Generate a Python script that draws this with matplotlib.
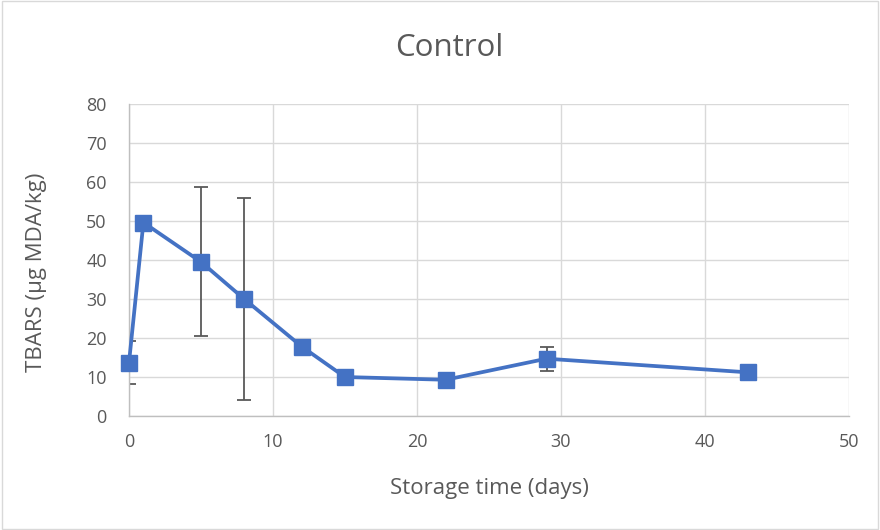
import matplotlib
matplotlib.use("Agg")
import matplotlib.pyplot as plt
from matplotlib.patches import Rectangle

days = [0, 1, 5, 8, 12, 15, 22, 29, 43]
tbars = [13.7, 49.6, 39.5, 30.0, 17.8, 10.0, 9.3, 14.7, 11.2]
err = [5.6, 1.5, 19.1, 26.0, 0.0, 0.0, 0.0, 3.1, 0.0]
xticks = [0, 10, 20, 30, 40, 50]
yticks = [0, 10, 20, 30, 40, 50, 60, 70, 80]

plt.rcParams['font.family'] = ['Open Sans', 'DejaVu Sans']
txt = '#595959'

fig = plt.figure(figsize=(8.8, 5.3), dpi=100)
fig.patches.append(Rectangle((0.002, 0.002), 0.996, 0.996, transform=fig.transFigure,
                             fill=False, edgecolor='#d9d9d9', linewidth=1))
ax = fig.add_axes([0.1466, 0.215, 0.818, 0.589])

ax.errorbar(days, tbars, yerr=err, fmt='none', ecolor='#595959', elinewidth=1.3,
            capsize=5, capthick=1.3, zorder=2)
ax.plot(days, tbars, color='#4472C4', linewidth=2.7, marker='s', markersize=11,
        markerfacecolor='#4472C4', markeredgecolor='#4472C4', zorder=3, clip_on=False)

ax.set_xlim(0, 50)
ax.set_ylim(0, 80)
ax.set_xticks(xticks)
ax.set_yticks(yticks)
ax.grid(True, color='#d9d9d9', linewidth=1)
ax.set_axisbelow(True)
for s in ['top', 'right']:
    ax.spines[s].set_visible(False)
for s in ['left', 'bottom']:
    ax.spines[s].set_color('#bfbfbf')
    ax.spines[s].set_linewidth(1)
ax.tick_params(axis='x', length=0, labelsize=13, colors=txt, pad=12)
ax.tick_params(axis='y', length=0, labelsize=13, colors=txt, pad=16)

fig.text(0.51, 0.909, 'Control', fontsize=22.5, color=txt, ha='center', va='center')
fig.text(0.556, 0.079, 'Storage time (days)', fontsize=16, color=txt, ha='center', va='center')
fig.text(0.041, 0.486, 'TBARS (µg MDA/kg)', fontsize=16, color=txt, ha='center', va='center',
         rotation=90)

fig.savefig('out.png', dpi=100)
